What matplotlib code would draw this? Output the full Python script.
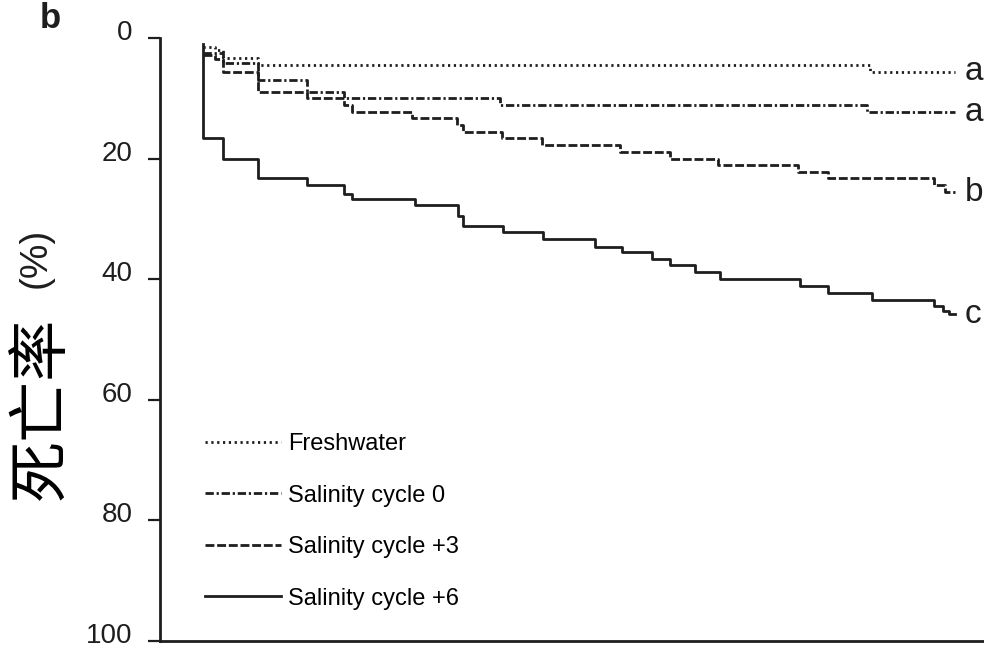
import matplotlib
matplotlib.use('Agg')
import matplotlib.pyplot as plt
from matplotlib.transforms import ScaledTranslation

# ---- data (time in arbitrary units 0..100, mortality in %)
fresh_t = [0, 1.6, 2.7, 7.3, 88.7, 100]
fresh_y = [1.5, 2.0, 3.3, 4.5, 5.6, 5.6]

cyc0_t = [0, 2.7, 7.3, 13.8, 18.8, 39.5, 88.4, 100]
cyc0_y = [2.5, 4.2, 7.0, 9.0, 10.0, 11.1, 12.3, 12.3]

cyc3_t = [0, 1.6, 2.7, 7.3, 13.8, 18.8, 19.9, 27.8, 33.8, 34.6, 39.8, 45.1,
          55.5, 62.1, 68.5, 79.1, 83.1, 97.3, 98.7, 100]
cyc3_y = [2.8, 3.5, 5.6, 9.0, 10.0, 11.1, 12.3, 13.3, 14.5, 15.6, 16.6, 17.8,
          18.9, 20.0, 21.1, 22.2, 23.3, 24.4, 25.6, 25.6]

cyc6_t = [0, 0, 2.7, 7.3, 13.8, 18.8, 19.9, 28.2, 33.9, 34.6, 39.9, 45.3,
          52.1, 55.7, 59.7, 62.1, 65.4, 68.8, 79.4, 83.1, 89.0, 97.3, 98.4,
          99.3, 100]
cyc6_y = [1.0, 16.6, 20.0, 23.3, 24.3, 25.8, 26.7, 27.7, 29.5, 31.1, 32.2,
          33.4, 34.6, 35.5, 36.6, 37.7, 38.8, 40.0, 41.2, 42.3, 43.4, 44.4,
          45.2, 45.8, 45.8]

labels = ['Freshwater', 'Salinity cycle 0', 'Salinity cycle +3',
          'Salinity cycle +6']
letters = ['a', 'a', 'b', 'c']
yticks = [0, 20, 40, 60, 80, 100]

INK = '#1e1e1e'
FONT = 'Liberation Sans'

fig = plt.figure(figsize=(9.84, 6.49), dpi=100)
ax = fig.add_axes([160 / 984, 1 - 641 / 649, 1 - 160 / 984, 603 / 649])

series = [
    (fresh_t, fresh_y, (0, (0.8, 1.3))),
    (cyc0_t, cyc0_y, (0, (3.0, 1.0, 0.8, 1.0))),
    (cyc3_t, cyc3_y, (0, (3.2, 1.0))),
    (cyc6_t, cyc6_y, '-'),
]
for (t, y, ls), lab in zip(series, labels):
    ax.plot(t, y, drawstyle='steps-post', color=INK, lw=2.0, ls=ls,
            label=lab)

# significance letters at the end of each curve
for (t, y, _), let in zip(series, letters):
    ax.text(t[-1] + 1.3, y[-1], let, fontsize=24, family=FONT, color=INK,
            ha='left', va='center')

ax.set_xlim(-5.7, 103.9)
ax.set_ylim(100, 0)
ax.set_yticks(yticks)
ax.set_yticklabels([str(v) for v in yticks], fontsize=20, family=FONT,
                   color=INK)
ax.set_xticks([])
ax.tick_params(axis='y', length=8.6, width=1.6, pad=11, color=INK)
# labels sit a little above their ticks in the original
shift = ScaledTranslation(0, 5.8 / 72, fig.dpi_scale_trans)
for tick in ax.yaxis.get_major_ticks():
    tick.label1.set_transform(tick.label1.get_transform() + shift)
for side in ['top', 'right']:
    ax.spines[side].set_visible(False)
for side in ['left', 'bottom']:
    ax.spines[side].set_linewidth(2.0)
    ax.spines[side].set_color(INK)

ax.legend(loc='center left', bbox_to_anchor=(0.0546, 0.1985), frameon=False,
          borderpad=0, borderaxespad=0, handlelength=3.2, handletextpad=0.3,
          labelspacing=1.25, prop={'family': FONT, 'size': 17})

fig.text(42 / 984, 1 - 408 / 649, '死亡率', rotation=90, fontsize=44,
         family=['Noto Sans CJK SC', 'DejaVu Sans'], color='black',
         ha='center', va='center')
fig.text(36 / 984, 1 - 258 / 649, '(%)', rotation=90, fontsize=28,
         family=FONT, color=INK, ha='center', va='center')
fig.text(50 / 984, 1 - 19 / 649, 'b', fontsize=25, fontweight='bold',
         family=FONT, color=INK, ha='center', va='center')

fig.savefig('out.png', dpi=100)
